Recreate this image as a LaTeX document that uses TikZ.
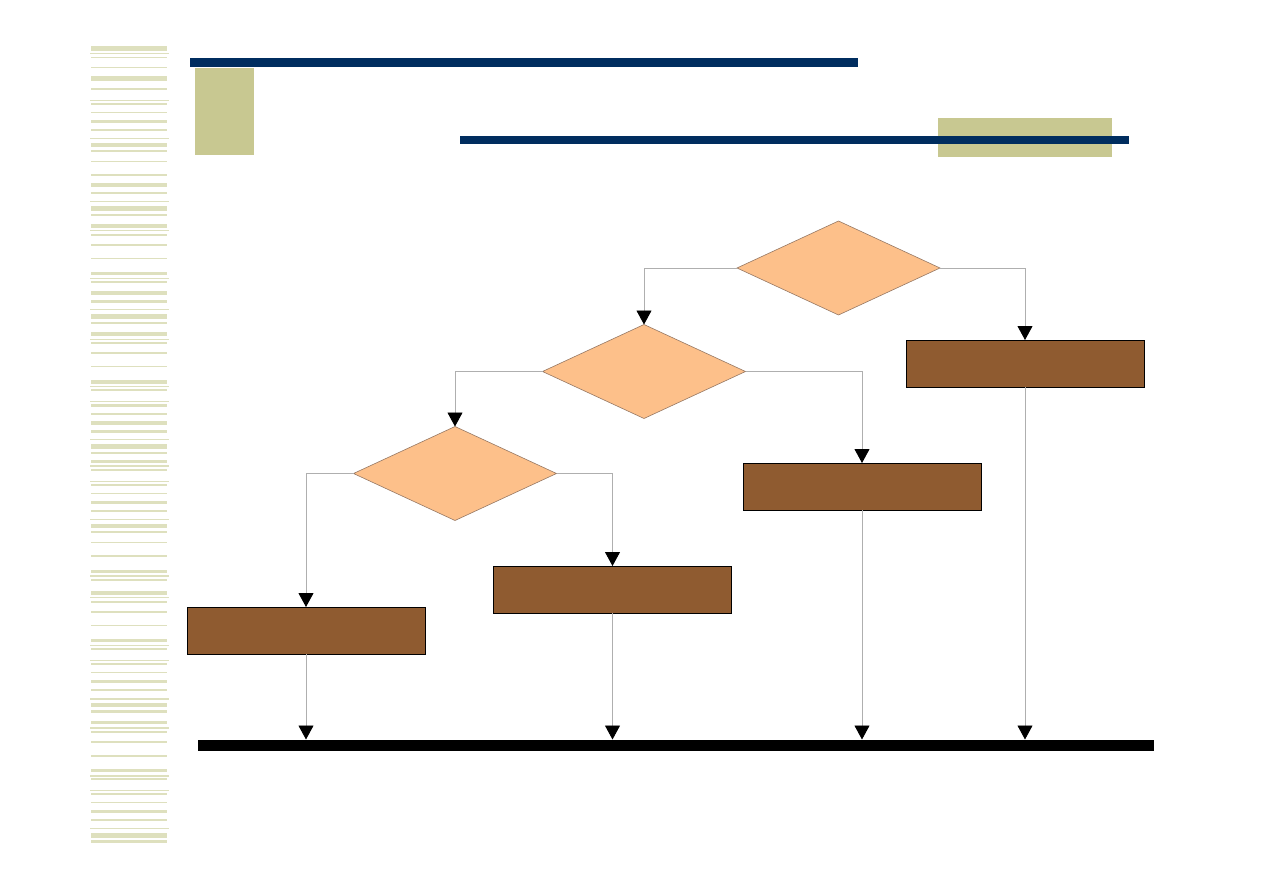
\documentclass[tikz,border=0pt]{standalone}
\usetikzlibrary{shapes.geometric,arrows.meta}
\definecolor{stripe}{RGB}{222,224,190}
\definecolor{olive}{RGB}{200,200,145}
\definecolor{navy}{RGB}{0,45,95}
\definecolor{peach}{RGB}{253,192,138}
\definecolor{peachline}{RGB}{150,120,100}
\definecolor{brownbox}{RGB}{143,91,48}
\definecolor{conn}{RGB}{175,175,175}
\tikzset{
  decision/.style={diamond,draw=peachline,line width=0.6pt,fill=peach,minimum width=203pt,minimum height=94pt,inner sep=0pt,outer sep=0pt},
  actbox/.style={rectangle,draw=black,line width=1pt,fill=brownbox,minimum width=238pt,minimum height=47pt,inner sep=0pt,outer sep=0pt},
  flow/.style={draw=conn,line width=0.9pt,-{Triangle[width=15pt,length=14pt,black]}},
}
\begin{document}
\begin{tikzpicture}[x=1pt,y=-1pt]
\useasboundingbox (0,0) rectangle (1263,893);
% left stripes
\foreach \a/\b in {46/51,76/80.7,88.3/89.7,102.7/104.7,120/122.7,129/130.7,143/146.7,150/151.7,174/175.7,183.3/186.7,192/193.7,206/210.7,213.7/215.7,224/227.7,233.7/235.7,244/245.7,272/275,281/282.7,291/294.7,300.3/302.7,314/318.7,321.7/323.7,332/335.7,342/343.7,352/353.7,380/383.7,388.7/390.7,404/406.7,413/414.7,421/424.7,430/432.7,444/449,451.7/453.7,460/462.7,469/470.7,483.7/485.7,501/503.7,510/511.7,524/527.7,530.7/532.7,555/556.7,570/572.7,578.7/580.7,591/594.7,600.7/602.7,611/612.7,639/641.7,647.7/649.7,662.7/664.7,680/682.7,689/690.7,703/707.3,710/712.7,721/724.3,730.7/732.7,740.7/742.7,769/771.7,777.7/779.7,792.7/794.7,810/812.7,818.7/820.7,833/837.7,840/842.7}
  \fill[stripe] (91,\a) rectangle (167,\b);
\foreach \a in {57,67,112,161,258,366,493,542,625,672,755.3,802}
  \fill[stripe] (91,\a) rectangle (167,\a+1.2);
\foreach \a in {53.3,100,138.3,201.3,230,278.3,309,339,386,401,439,465.3,481,519,575.3,597,645,660,698.3,727.3,775.3,790,828}
  \fill[stripe] (89.5,\a) rectangle (168.5,\a+1.2);
% header bars
\fill[olive] (195,68) rectangle (254,155);
\fill[navy] (190,58) rectangle (858,67.5);
\fill[olive] (938,118) rectangle (1112,157);
\fill[navy] (460,136) rectangle (1129,144.5);
% nodes
\node[decision] (d1) at (838.5,268) {};
\node[decision] (d2) at (644,371.5) {};
\node[decision] (d3) at (455,473.5) {};
\node[actbox] (r1) at (1025,363.5) {};
\node[actbox] (r2) at (862,486.5) {};
\node[actbox] (r3) at (612.5,589.5) {};
\node[actbox] (r4) at (306,630.5) {};
\node[rectangle,fill=black,minimum width=956pt,minimum height=11pt,inner sep=0pt,outer sep=0pt] (bar) at (676,745) {};
% connectors
\draw[flow] (d1.west) -| (d2.north);
\draw[flow] (d1.east) -| (r1.north);
\draw[flow] (d2.west) -| (d3.north);
\draw[flow] (d2.east) -| (r2.north);
\draw[flow] (d3.west) -| (r4.north);
\draw[flow] (d3.east) -| (r3.north);
\draw[flow] (r4.south) -- (r4.south |- bar.north);
\draw[flow] (r3.south) -- (r3.south |- bar.north);
\draw[flow] (r2.south) -- (r2.south |- bar.north);
\draw[flow] (r1.south) -- (r1.south |- bar.north);
\end{tikzpicture}
\end{document}
